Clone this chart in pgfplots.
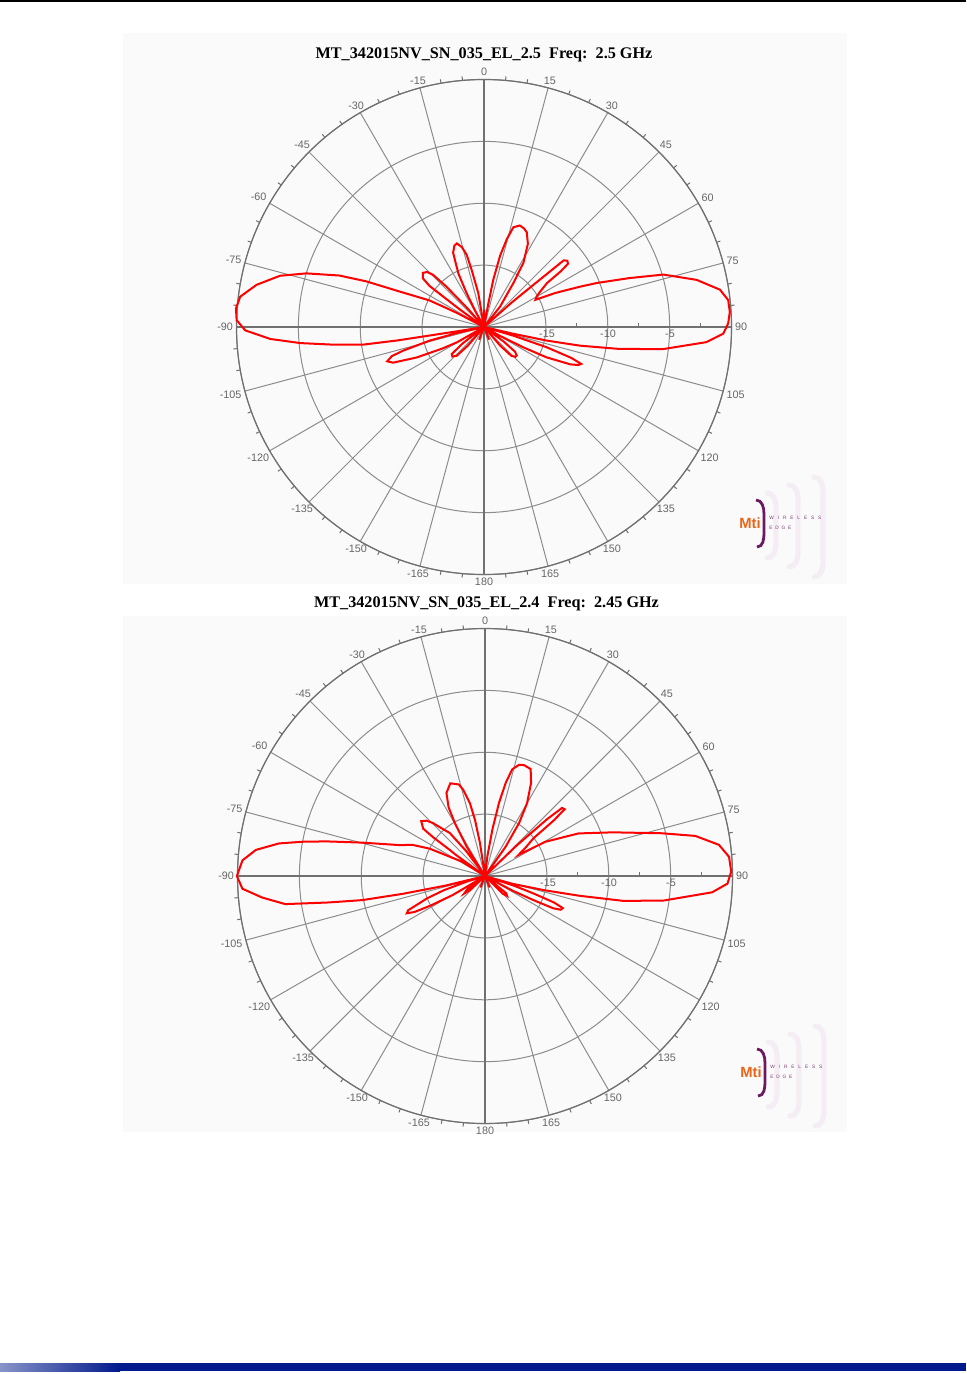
\documentclass[border=0pt]{standalone}
\usepackage{fontspec}
\setmainfont{Liberation Serif}
\newfontfamily\lsans{Liberation Sans}
\usepackage{pgfplots}
\pgfplotsset{compat=1.18}
\usepgfplotslibrary{polar}
\usepackage{pgfplotstable}
\definecolor{gridc}{HTML}{8C8C8C}
\definecolor{axc}{HTML}{707070}
\definecolor{tlab}{HTML}{666666}
\definecolor{mtiorange}{HTML}{E8661A}
\definecolor{mtipurple}{HTML}{6A1A60}
\definecolor{lav}{HTML}{F4EEF4}
\definecolor{barblue}{HTML}{00198C}
\definecolor{barlight}{HTML}{8894C8}

% theta (deg, clockwise from top)  gain (dB)
\pgfplotstableread{
t g
-180 -20
-166 -20
-159 -18.9
-152 -20
-142 -20
-139 -18
-136.5 -16.8
-133 -16.5
-130 -16.6
-127.5 -17.8
-125.5 -20
-121.5 -20
-119.5 -17.5
-117.3 -16.2
-114.3 -14
-111.4 -12.1
-109.5 -11.7
-107.5 -12.2
-106.3 -13.2
-104 -15.5
-102.5 -17.8
-101.5 -20
-100 -20
-99.1 -18.3
-98.9 -15.6
-98.8 -12.9
-98.3 -10.2
-96.5 -7.5
-95 -5.1
-93.2 -2.7
-90.8 -0.7
-88.4 0
-85.7 0.1
-82.9 -0.15
-79.5 -1.3
-75.9 -3.0
-73.2 -5.0
-70.4 -7.6
-68.8 -9.8
-67.2 -12.6
-64 -15.1
-62.5 -17.5
-61 -20
-56 -20
-54 -17.5
-53 -14.5
-51.5 -13.7
-48.5 -13.4
-46 -13.6
-44.3 -14.1
-43 -15.5
-41.5 -18
-40 -20
-30 -20
-28.5 -18.5
-27.2 -16.9
-25.6 -15.2
-22.6 -13.5
-20 -13
-18 -12.9
-15.5 -13.3
-13.5 -14
-12.2 -15.3
-9.6 -17.2
-8 -20
-3 -20
0 -18.6
3 -20
9 -20
10.4 -18.1
11.1 -16.1
12.7 -14.1
14.5 -12.7
16.4 -11.6
19.4 -11.3
22 -11.4
24.3 -11.6
27.8 -12.4
31.5 -13.9
33.7 -15.7
38.2 -17.9
41 -20
46 -20
48.5 -17
49.5 -14.8
50.1 -11.6
51.5 -11.4
53 -11.5
54 -12.3
55.1 -13.8
58 -14.7
60.1 -15.1
62.1 -15.3
64.5 -13.6
67.2 -11.6
68.7 -10.2
71.4 -7.6
73.7 -4.9
77.5 -2.4
81.0 -0.7
83.7 -0.15
86.5 -0.1
89.2 -0.27
91.6 -0.66
93.9 -2.0
97.0 -5.4
99.2 -8.9
101 -12.1
102.2 -14.8
103 -17.6
104 -20
105.5 -20
106.5 -17.5
107.9 -14.7
109.5 -12.5
110.8 -11.6
112 -11.8
113.4 -12.4
115.9 -14.4
117.3 -16.4
119 -18.5
121 -20
124 -20
126.5 -18
128.5 -16.8
131 -16.5
133.5 -16.5
136.5 -16.8
139 -18
142 -20
152 -20
158 -18.9
165 -20
180 -20
}\patA

\pgfplotstableread{
t g
-180 -20
-165 -20
-158 -19
-150 -20
-137 -20
-133 -18.3
-130 -17.8
-127 -18.2
-124 -20
-122 -20
-120.5 -17
-118.5 -15
-117 -13.6
-115.5 -13.0
-114 -13.2
-112.6 -14.2
-111 -15
-109 -16.5
-107 -18.5
-105.5 -20
-104.5 -20
-103.6 -16.7
-102.2 -13.2
-101.1 -9.9
-99.6 -7.2
-98 -3.7
-95.5 -1.9
-93 -0.37
-90 0.05
-86.3 -0.36
-83.5 -1.36
-81 -3.15
-79.1 -5.25
-77.5 -7.1
-74.8 -9.7
-70 -12.7
-66.8 -13.6
-63.7 -15
-58 -17.8
-56.5 -20
-55 -20
-54 -17
-53.5 -16.5
-53.2 -14.7
-52.5 -13.7
-49.3 -13.2
-46.5 -13.5
-44.5 -14.0
-41.5 -15
-39.3 -15.5
-37 -17.5
-35.5 -20
-34.5 -20
-32 -17.2
-29.7 -15.1
-27.9 -13.7
-24.9 -12.6
-20.5 -12.0
-16 -12.3
-14.2 -12.8
-11.7 -14
-10.1 -15.4
-8.7 -17.3
-7.5 -20
-2 -20
0 -19
2 -20
5 -20
6.8 -18.4
9 -16.2
10.8 -14
12.5 -12.3
14.3 -11.1
17 -10.6
19.3 -10.5
23.1 -10.6
26.3 -11.6
30 -13.2
32.7 -14.9
35.1 -17.1
38 -20
44 -20
46 -16.5
47.5 -13.2
48.5 -11.7
50 -11.6
51 -12.8
51.5 -14
52 -15
55 -16
57.8 -16.8
60.4 -14.4
65.5 -11.7
71.1 -9.1
76.4 -5.3
79.2 -2.7
82.4 -0.93
85.5 -0.22
89 -0.1
91.8 -0.4
94.1 -1.6
97.9 -5.5
100.2 -8.7
101.8 -12.2
103.4 -15
105.9 -17.7
106.8 -20
107.5 -20
108.5 -17.5
109.7 -15.9
111 -14
112.4 -13.2
114 -13.3
115.3 -13.9
116.4 -15.6
118 -17.5
120 -20
126 -20
129 -17.8
132 -17.6
135 -18
138 -20
150 -20
158 -19
165 -20
180 -20
}\patB

\pgfplotsset{antenna/.style={
  scale only axis, width=247.5bp, height=247.5bp,
  xmin=0, xmax=360, ymin=0, ymax=20,
  xtick={0,15,...,345}, minor x tick num=2, xticklabels={},
  ytick={5,10,15,20}, yticklabels={}, minor y tick num=1,
  grid=major, major grid style={line width=0.5bp, color=gridc},
  extra x ticks={0,90,180,270}, extra x tick labels={},
  extra x tick style={major grid style={line width=0.7bp, color=axc}},
  axis line style={line width=0.6bp, color=axc},
  tick style={line width=0.5bp, color=axc},
  major tick length=0pt, minor tick length=2bp, tick align=inside,
  clip=false, anchor=center,
}}

\newcommand\anglelabels{%
  \foreach \a/\l in {0/90,15/75,30/60,45/45,60/30,75/15,90/0,105/-15,120/-30,135/-45,150/-60,165/-75,180/-90,195/-105,210/-120,225/-135,240/-150,255/-165,270/180,285/165,300/150,315/135,330/120,345/105}{%
    \pgfmathtruncatemacro\an{mod(\a+180,360)}%
    \node[anchor=\an, inner sep=0.8bp, text=tlab, font=\lsans\fontsize{5.4bp}{6bp}\selectfont] at (\a:249) {\l};
  }%
  \foreach \x/\l in {63/-15,124/-10,186/-5}{%
    \node[text=tlab, font=\lsans\fontsize{5.4bp}{6bp}\selectfont, inner sep=0pt] at (\x,-7) {\l};
  }%
}

\newcommand\mtilogo{%
  \foreach \x/\t/\b in {776/493/558, 798/485/567, 823/477/577}{%
    \draw[lav, line width=2.6bp, line cap=round] (\x-9,-\t) to[out=0,in=90] (\x,-\t-14) -- (\x,-\b+14) to[out=270,in=0] (\x-9,-\b);
  }
  \draw[mtipurple, line width=1.4bp] (756,-500) to[out=0,in=90] (764,-514) -- (764,-533) to[out=270,in=0] (757,-547);
  \node[text=mtiorange, font=\lsans\bfseries\fontsize{7.4bp}{8bp}\selectfont, inner sep=0pt] at (750,-523) {Mti};
  \node[anchor=north west, align=left, text=mtipurple!85, font=\lsans\fontsize{2.4bp}{2.6bp}\selectfont, inner sep=0pt] at (769,-515.5)
     {\makebox[26bp][s]{W\hfill I\hfill R\hfill E\hfill L\hfill E\hfill S\hfill S}\\[2.6bp]\makebox[11bp][s]{E\hfill D\hfill G\hfill E}};
}

\begin{document}
\begin{tikzpicture}[x=0.5bp, y=0.5bp]
\useasboundingbox (0,0) rectangle (966,-1374);
% page furniture
\fill[black!2] (123,-33) rectangle (847,-584);
\fill[black!2] (123,-616) rectangle (847,-1132);
\draw[black, line width=1bp] (0,-1) -- (966,-1);
\shade[left color=barlight, right color=barblue] (0,-1363) rectangle (120,-1371);
\fill[barblue] (120,-1363) rectangle (966,-1371);

% titles
\node[anchor=base, font=\bfseries\fontsize{8.1bp}{9bp}\selectfont, inner sep=0pt] at (484,-58.5)
  {MT\_342015NV\_SN\_035\_EL\_2.5\ \ Freq:\ \ 2.5 GHz};
\node[anchor=base, font=\bfseries\fontsize{8.1bp}{9bp}\selectfont, inner sep=0pt] at (486.5,-607.5)
  {MT\_342015NV\_SN\_035\_EL\_2.4\ \ Freq:\ \ 2.45 GHz};

% top pattern
\begin{polaraxis}[antenna, at={(242bp,-163.5bp)}]
  \addplot[red, line width=1bp, no marks] table[x expr={90-\thisrow{t}}, y expr={\thisrow{g}+20}] {\patA};
\end{polaraxis}
\begin{scope}[shift={(484,-327)}]
  \anglelabels
\end{scope}
\mtilogo

% bottom pattern
\begin{polaraxis}[antenna, at={(242.5bp,-438bp)}]
  \addplot[red, line width=1bp, no marks] table[x expr={90-\thisrow{t}}, y expr={\thisrow{g}+20}] {\patB};
\end{polaraxis}
\begin{scope}[shift={(485,-876)}]
  \anglelabels
\end{scope}
\begin{scope}[shift={(1,-549)}]
  \mtilogo
\end{scope}
\end{tikzpicture}
\end{document}
